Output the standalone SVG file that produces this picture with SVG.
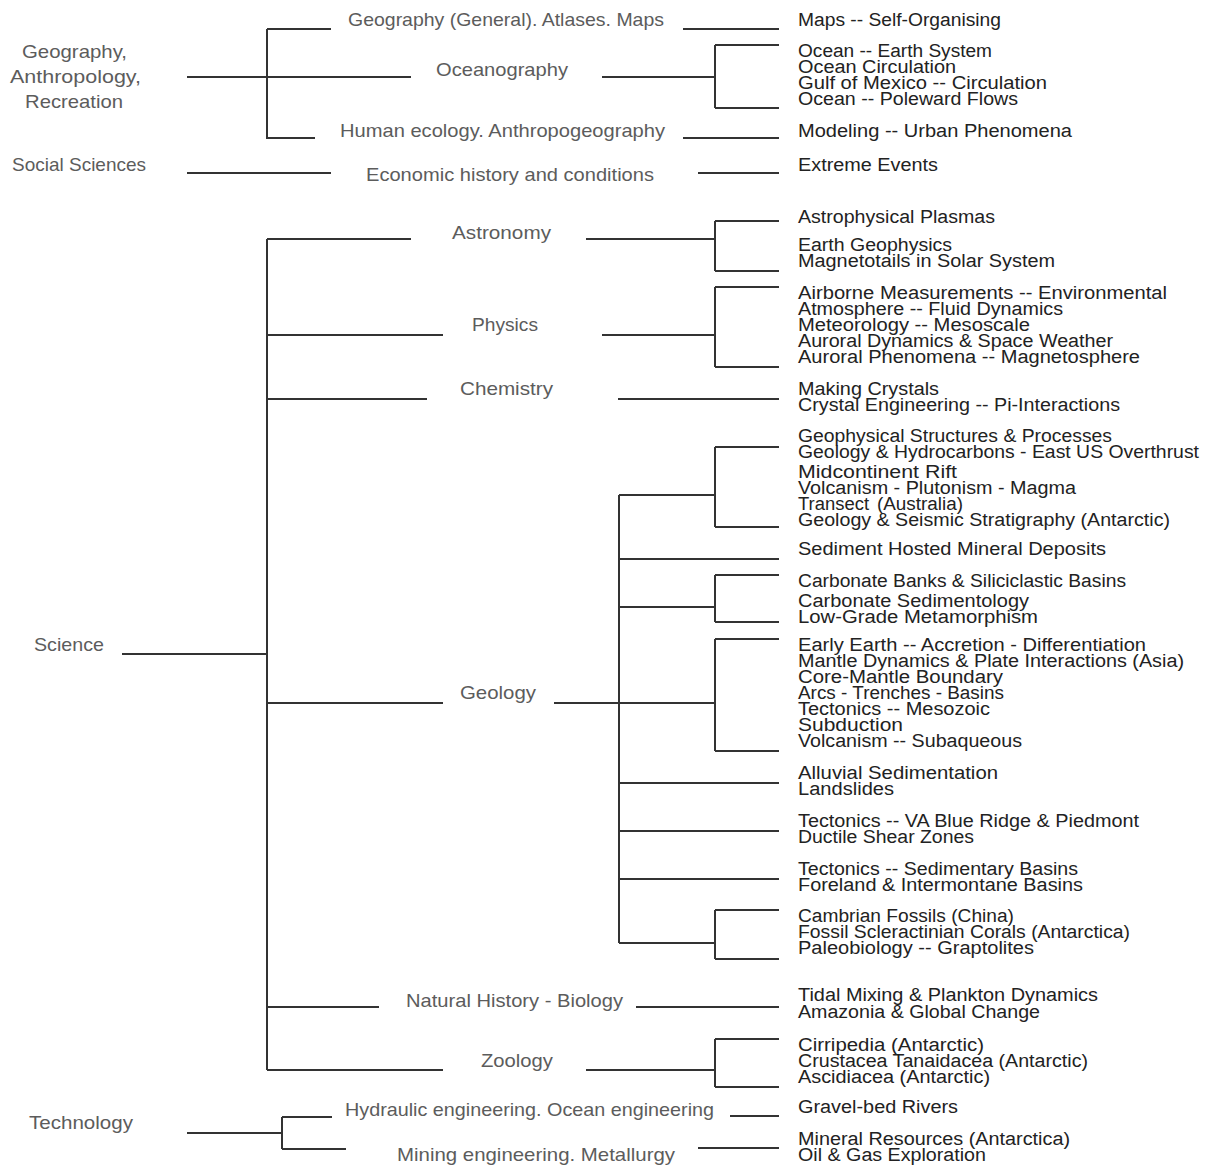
<svg xmlns="http://www.w3.org/2000/svg" width="1208" height="1166" viewBox="0 0 1208 1166">
<style>
.bg{fill:#ffffff}
.c path{fill:none;stroke:#333333;stroke-width:2;stroke-linecap:butt}
.lab{font-family:"Liberation Sans",Arial,sans-serif;font-size:19px;fill:#5c5c5c}
.leaf{font-family:"Liberation Sans",Arial,sans-serif;font-size:18px;fill:#222222}
</style>
<rect class="bg" x="0" y="0" width="1208" height="1166"/>
<g id="connectors" class="c">
<path d="M187,77H411M267,29V139M267,29H331M267,138H315M683,29H779M602,77H715M715,45V108M715,45H779M715,108H779M683,138H779"/>
<path d="M187,173H331M698,173H779"/>
<path d="M122,654H267M267,239V1070M267,239H411M267,335H443M267,399H427M267,703H443M267,1007H379M267,1070H443"/>
<path d="M586,239H715M715,221V271M715,221H779M715,271H779"/>
<path d="M602,335H715M715,287V367M715,287H779M715,367H779"/>
<path d="M618,399H779"/>
<path d="M554,703H715M619,495V943M619,495H715M715,447V527M715,447H779M715,527H779M619,559H779M619,607H715M715,575V622M715,575H779M715,622H779M715,639V751M715,639H779M715,751H779M619,783H779M619,831H779M619,879H779M619,943H715M715,910V959M715,910H779M715,959H779"/>
<path d="M636,1007H779"/>
<path d="M586,1070H715M715,1039V1087M715,1039H779M715,1087H779"/>
<path d="M187,1133H282M282,1117V1149M282,1117H332M282,1149H346M730,1116H779M698,1148H779"/>
</g>
<g id="n-geography" class="lab"><text x="22" y="58" textLength="105" lengthAdjust="spacingAndGlyphs">Geography,</text><text x="10" y="83" textLength="131" lengthAdjust="spacingAndGlyphs">Anthropology,</text><text x="25" y="108" textLength="98" lengthAdjust="spacingAndGlyphs">Recreation</text></g>
<g id="n-social" class="lab"><text x="12" y="171" textLength="134" lengthAdjust="spacingAndGlyphs">Social Sciences</text></g>
<g id="n-science" class="lab"><text x="34" y="651" textLength="70" lengthAdjust="spacingAndGlyphs">Science</text></g>
<g id="n-technology" class="lab"><text x="29" y="1129" textLength="104" lengthAdjust="spacingAndGlyphs">Technology</text></g>
<g id="n-geogen" class="lab"><text x="348" y="26" textLength="316" lengthAdjust="spacingAndGlyphs">Geography (General). Atlases. Maps</text></g>
<g id="n-ocean" class="lab"><text x="436" y="76" textLength="132" lengthAdjust="spacingAndGlyphs">Oceanography</text></g>
<g id="n-human" class="lab"><text x="340" y="137" textLength="325" lengthAdjust="spacingAndGlyphs">Human ecology. Anthropogeography</text></g>
<g id="n-econ" class="lab"><text x="366" y="181" textLength="288" lengthAdjust="spacingAndGlyphs">Economic history and conditions</text></g>
<g id="n-astro" class="lab"><text x="452" y="239" textLength="99" lengthAdjust="spacingAndGlyphs">Astronomy</text></g>
<g id="n-physics" class="lab"><text x="472" y="331" textLength="66" lengthAdjust="spacingAndGlyphs">Physics</text></g>
<g id="n-chem" class="lab"><text x="460" y="395" textLength="93" lengthAdjust="spacingAndGlyphs">Chemistry</text></g>
<g id="n-geology" class="lab"><text x="460" y="699" textLength="76" lengthAdjust="spacingAndGlyphs">Geology</text></g>
<g id="n-nathist" class="lab"><text x="406" y="1007" textLength="217" lengthAdjust="spacingAndGlyphs">Natural History - Biology</text></g>
<g id="n-zoology" class="lab"><text x="481" y="1067" textLength="72" lengthAdjust="spacingAndGlyphs">Zoology</text></g>
<g id="n-hydraulic" class="lab"><text x="345" y="1116" textLength="369" lengthAdjust="spacingAndGlyphs">Hydraulic engineering. Ocean engineering</text></g>
<g id="n-mining" class="lab"><text x="397" y="1161" textLength="278" lengthAdjust="spacingAndGlyphs">Mining engineering. Metallurgy</text></g>
<g id="l-maps" class="leaf"><text x="798" y="26" textLength="203" lengthAdjust="spacingAndGlyphs">Maps -- Self-Organising</text></g>
<g id="l-ocean" class="leaf"><text x="798" y="57" textLength="194" lengthAdjust="spacingAndGlyphs">Ocean -- Earth System</text><text x="798" y="73" textLength="158" lengthAdjust="spacingAndGlyphs">Ocean Circulation</text><text x="798" y="89" textLength="249" lengthAdjust="spacingAndGlyphs">Gulf of Mexico -- Circulation</text><text x="798" y="105" textLength="220" lengthAdjust="spacingAndGlyphs">Ocean -- Poleward Flows</text></g>
<g id="l-urban" class="leaf"><text x="798" y="137" textLength="274" lengthAdjust="spacingAndGlyphs">Modeling -- Urban Phenomena</text></g>
<g id="l-extreme" class="leaf"><text x="798" y="171" textLength="140" lengthAdjust="spacingAndGlyphs">Extreme Events</text></g>
<g id="l-astro1" class="leaf"><text x="798" y="223" textLength="197" lengthAdjust="spacingAndGlyphs">Astrophysical Plasmas</text></g>
<g id="l-astro2" class="leaf"><text x="798" y="251" textLength="154" lengthAdjust="spacingAndGlyphs">Earth Geophysics</text><text x="798" y="267" textLength="257" lengthAdjust="spacingAndGlyphs">Magnetotails in Solar System</text></g>
<g id="l-physics" class="leaf"><text x="798" y="299" textLength="369" lengthAdjust="spacingAndGlyphs">Airborne Measurements -- Environmental</text><text x="798" y="315" textLength="265" lengthAdjust="spacingAndGlyphs">Atmosphere -- Fluid Dynamics</text><text x="798" y="331" textLength="232" lengthAdjust="spacingAndGlyphs">Meteorology -- Mesoscale</text><text x="798" y="347" textLength="315" lengthAdjust="spacingAndGlyphs">Auroral Dynamics &amp; Space Weather</text><text x="798" y="363" textLength="342" lengthAdjust="spacingAndGlyphs">Auroral Phenomena -- Magnetosphere</text></g>
<g id="l-chem" class="leaf"><text x="798" y="395" textLength="141" lengthAdjust="spacingAndGlyphs">Making Crystals</text><text x="798" y="411" textLength="322" lengthAdjust="spacingAndGlyphs">Crystal Engineering -- Pi-Interactions</text></g>
<g id="l-geo1" class="leaf"><text x="798" y="442" textLength="314" lengthAdjust="spacingAndGlyphs">Geophysical Structures &amp; Processes</text><text x="798" y="458" textLength="401" lengthAdjust="spacingAndGlyphs">Geology &amp; Hydrocarbons - East US Overthrust</text><text x="798" y="478" textLength="159" lengthAdjust="spacingAndGlyphs">Midcontinent Rift</text><text x="798" y="494" textLength="278" lengthAdjust="spacingAndGlyphs">Volcanism - Plutonism - Magma</text><text x="798" y="510" textLength="71" lengthAdjust="spacingAndGlyphs">Transect</text><text x="877" y="510" textLength="86" lengthAdjust="spacingAndGlyphs">(Australia)</text><text x="798" y="526" textLength="372" lengthAdjust="spacingAndGlyphs">Geology &amp; Seismic Stratigraphy (Antarctic)</text></g>
<g id="l-geo2" class="leaf"><text x="798" y="555" textLength="308" lengthAdjust="spacingAndGlyphs">Sediment Hosted Mineral Deposits</text></g>
<g id="l-geo3" class="leaf"><text x="798" y="587" textLength="328" lengthAdjust="spacingAndGlyphs">Carbonate Banks &amp; Siliciclastic Basins</text><text x="798" y="607" textLength="231" lengthAdjust="spacingAndGlyphs">Carbonate Sedimentology</text><text x="798" y="623" textLength="240" lengthAdjust="spacingAndGlyphs">Low-Grade Metamorphism</text></g>
<g id="l-geo4" class="leaf"><text x="798" y="651" textLength="348" lengthAdjust="spacingAndGlyphs">Early Earth -- Accretion - Differentiation</text><text x="798" y="667" textLength="386" lengthAdjust="spacingAndGlyphs">Mantle Dynamics &amp; Plate Interactions (Asia)</text><text x="798" y="683" textLength="205" lengthAdjust="spacingAndGlyphs">Core-Mantle Boundary</text><text x="798" y="699" textLength="206" lengthAdjust="spacingAndGlyphs">Arcs - Trenches - Basins</text><text x="798" y="715" textLength="192" lengthAdjust="spacingAndGlyphs">Tectonics -- Mesozoic</text><text x="798" y="731" textLength="105" lengthAdjust="spacingAndGlyphs">Subduction</text><text x="798" y="747" textLength="224" lengthAdjust="spacingAndGlyphs">Volcanism -- Subaqueous</text></g>
<g id="l-geo5" class="leaf"><text x="798" y="779" textLength="200" lengthAdjust="spacingAndGlyphs">Alluvial Sedimentation</text><text x="798" y="795" textLength="96" lengthAdjust="spacingAndGlyphs">Landslides</text></g>
<g id="l-geo6" class="leaf"><text x="798" y="827" textLength="341" lengthAdjust="spacingAndGlyphs">Tectonics -- VA Blue Ridge &amp; Piedmont</text><text x="798" y="843" textLength="176" lengthAdjust="spacingAndGlyphs">Ductile Shear Zones</text></g>
<g id="l-geo7" class="leaf"><text x="798" y="875" textLength="280" lengthAdjust="spacingAndGlyphs">Tectonics -- Sedimentary Basins</text><text x="798" y="891" textLength="285" lengthAdjust="spacingAndGlyphs">Foreland &amp; Intermontane Basins</text></g>
<g id="l-geo8" class="leaf"><text x="798" y="922" textLength="216" lengthAdjust="spacingAndGlyphs">Cambrian Fossils (China)</text><text x="798" y="938" textLength="332" lengthAdjust="spacingAndGlyphs">Fossil Scleractinian Corals (Antarctica)</text><text x="798" y="954" textLength="236" lengthAdjust="spacingAndGlyphs">Paleobiology -- Graptolites</text></g>
<g id="l-bio" class="leaf"><text x="798" y="1001" textLength="300" lengthAdjust="spacingAndGlyphs">Tidal Mixing &amp; Plankton Dynamics</text><text x="798" y="1018" textLength="242" lengthAdjust="spacingAndGlyphs">Amazonia &amp; Global Change</text></g>
<g id="l-zoo" class="leaf"><text x="798" y="1051" textLength="186" lengthAdjust="spacingAndGlyphs">Cirripedia (Antarctic)</text><text x="798" y="1067" textLength="290" lengthAdjust="spacingAndGlyphs">Crustacea Tanaidacea (Antarctic)</text><text x="798" y="1083" textLength="192" lengthAdjust="spacingAndGlyphs">Ascidiacea (Antarctic)</text></g>
<g id="l-hyd" class="leaf"><text x="798" y="1113" textLength="160" lengthAdjust="spacingAndGlyphs">Gravel-bed Rivers</text></g>
<g id="l-min" class="leaf"><text x="798" y="1145" textLength="272" lengthAdjust="spacingAndGlyphs">Mineral Resources (Antarctica)</text><text x="798" y="1161" textLength="188" lengthAdjust="spacingAndGlyphs">Oil &amp; Gas Exploration</text></g>
</svg>
